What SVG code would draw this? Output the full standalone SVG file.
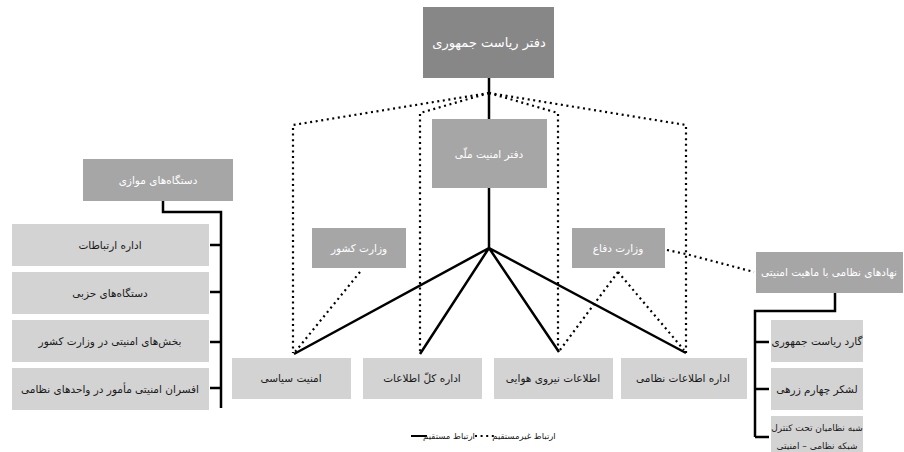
<svg xmlns="http://www.w3.org/2000/svg" width="904" height="452" viewBox="0 0 904 452">
<style>
.dk{fill:#878787}
.md{fill:#a6a6a6}
.lt{fill:#d3d3d3}
text{font-family:"DejaVu Sans","Noto Sans",sans-serif;font-size:10.5px;text-anchor:middle;direction:rtl;unicode-bidi:embed}
.w{fill:#ffffff}
.b{fill:#1a1a1a}
.sol{stroke:#000;stroke-width:2.5;fill:none}
.dot{stroke:#000;stroke-width:2.2;fill:none;stroke-dasharray:2 3.6}
</style>
<rect width="904" height="452" fill="#ffffff"/>
<g id="connectors">
<path class="sol" d="M489,78 V120"/>
<path class="sol" d="M489,188 V248"/>
<path class="sol" d="M489,248 L294,354 M489,248 L420,354 M489,248 L559,352 M489,248 L686,353"/>
<path class="dot" d="M489,93 L293,125 V353"/>
<path class="dot" d="M489,93 L420,113 V354"/>
<path class="dot" d="M489,93 L558,113 V354"/>
<path class="dot" d="M489,93 L686,125 V353"/>
<path class="dot" d="M360,272 L295,352"/>
<path class="dot" d="M618,272 L560,350 M618,272 L684,350"/>
<path class="dot" d="M667,250 L686,254 L754,272"/>
<path class="sol" d="M163,201 V212 H221 V408 M221,245 H210 M221,292 H210 M221,342 H210 M221,388 H210"/>
<path class="sol" d="M835,293 V311 H755 V437 M755,342 H769 M755,389 H769 M755,437 H769"/>
</g>
<g id="n-presidency"><rect class="dk" x="423" y="7" width="131" height="71"/><text class="w" x="489" y="47" style="font-size:13px">دفتر ریاست جمهوری</text></g>
<g id="n-nsa"><rect class="md" x="432" y="119" width="115" height="69"/><text class="w" x="489" y="158">دفتر امنیت ملّی</text></g>
<g id="n-interior"><rect class="md" x="312" y="228" width="94" height="40"/><text class="w" x="359" y="252">وزارت کشور</text></g>
<g id="n-defense"><rect class="md" x="572" y="228" width="93" height="40"/><text class="w" x="618" y="252">وزارت دفاع</text></g>
<g id="n-parallel"><rect class="md" x="83" y="159" width="150" height="42"/><text class="w" x="158" y="184">دستگاه‌های موازی</text></g>
<g id="n-military"><rect class="md" x="756" y="252" width="147" height="41"/><text class="w" x="829" y="276">نهادهای نظامی با ماهیت امنیتی</text></g>
<g id="n-p1"><rect class="lt" x="12" y="224" width="197" height="42"/><text class="b" x="110" y="249">اداره ارتباطات</text></g>
<g id="n-p2"><rect class="lt" x="12" y="272" width="197" height="42"/><text class="b" x="110" y="297">دستگاه‌های حزبی</text></g>
<g id="n-p3"><rect class="lt" x="12" y="320" width="197" height="42"/><text class="b" x="110" y="345">بخش‌های امنیتی در وزارت کشور</text></g>
<g id="n-p4"><rect class="lt" x="12" y="368" width="197" height="42"/><text class="b" x="110" y="393">افسران امنیتی مأمور در واحدهای نظامی</text></g>
<g id="n-b1"><rect class="lt" x="232" y="358" width="119" height="41"/><text class="b" x="291" y="382">امنیت سیاسی</text></g>
<g id="n-b2"><rect class="lt" x="363" y="358" width="119" height="41"/><text class="b" x="422" y="382">اداره کلّ اطلاعات</text></g>
<g id="n-b3"><rect class="lt" x="494" y="358" width="119" height="41"/><text class="b" x="553" y="382">اطلاعات نیروی هوایی</text></g>
<g id="n-b4"><rect class="lt" x="621" y="358" width="126" height="41"/><text class="b" x="683" y="382">اداره اطلاعات نظامی</text></g>
<g id="n-m1"><rect class="lt" x="771" y="320" width="92" height="42"/><text class="b" x="817" y="345">گارد ریاست جمهوری</text></g>
<g id="n-m2"><rect class="lt" x="771" y="368" width="92" height="42"/><text class="b" x="817" y="393">لشکر چهارم زرهی</text></g>
<g id="n-m3"><rect class="lt" x="771" y="416" width="92" height="40"/><text class="b" x="817" y="431" style="font-size:9px">شبه نظامیان تحت کنترل</text><text class="b" x="817" y="449" style="font-size:9px">شبکه نظامی – امنیتی</text></g>
<g id="legend">
<path class="sol" d="M411,436 H427" style="stroke-width:2"/>
<text class="b" x="449" y="439" style="font-size:8.5px">ارتباط مستقیم</text>
<path class="dot" d="M475,436 H496"/>
<text class="b" x="524" y="439" style="font-size:8.5px">ارتباط غیرمستقیم</text>
</g>
</svg>
